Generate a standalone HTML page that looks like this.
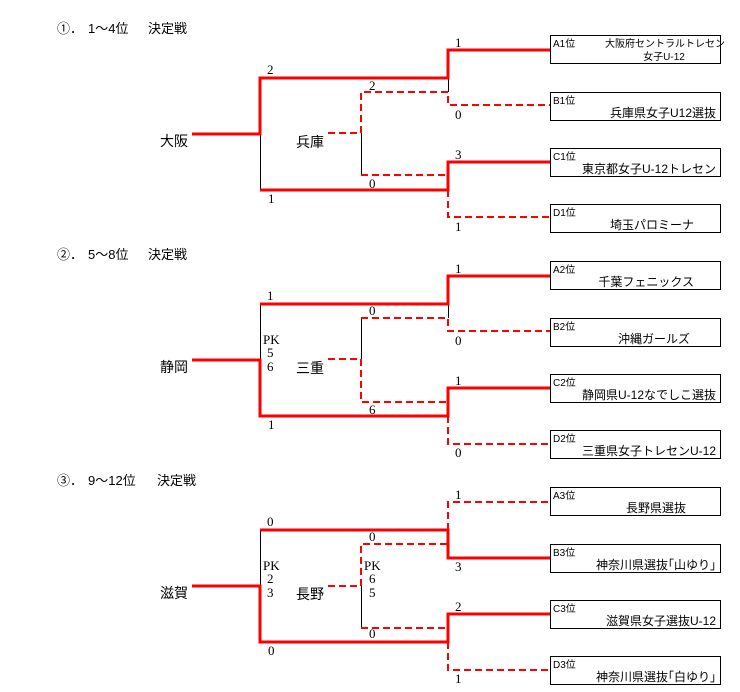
<!DOCTYPE html>
<html><head><meta charset="utf-8"><style>
html,body{margin:0;padding:0;background:#fff;}
svg{display:block;}
text{font-family:"Liberation Sans","Noto Sans CJK JP",sans-serif;fill:#000;}
.n{font-family:"Liberation Serif","Noto Sans CJK JP",serif;font-size:13px;}
.t{font-size:13px;}
.s{font-size:10px;}
.m{font-size:12px;}
.r{fill:none;stroke:#f00;stroke-width:3;}
.d{fill:none;stroke:#f00;stroke-width:2;stroke-dasharray:7,4;}
.k{fill:none;stroke:#000;stroke-width:1;}
.b{fill:#fff;stroke:#000;stroke-width:1;}
</style></head><body>
<svg width="740" height="692" viewBox="0 0 740 692" xmlns="http://www.w3.org/2000/svg">
<defs>
<g id="boxes">
<rect class="b" x="550.5" y="35.5" width="170" height="28"/>
<rect class="b" x="550.5" y="92.5" width="170" height="28"/>
<rect class="b" x="550.5" y="148.5" width="170" height="28"/>
<rect class="b" x="550.5" y="204.5" width="170" height="28"/>
</g>
</defs>

<!-- Section 1 -->
<g>
<text class="t" x="57" y="33">①．</text><text class="t" x="88" y="33">1～4位</text><text class="t" x="148" y="33">決定戦</text>
<use href="#boxes"/>
<path class="k" d="M260.5 134 V190 M448.5 78 V92 M361.5 133 V175"/>
<path class="d" d="M328 133 H361 V92 H448 V105 H550 M361 175 H448 M448 190 V217 H550"/>
<path class="r" d="M192 134 H260 V78 H448 V50 H550 M260 190 H448 V162 H550"/>
<text class="t" x="160" y="146" style="font-size:14px">大阪</text>
<text class="t" x="296" y="147" style="font-size:14px">兵庫</text>
<text class="n" x="267" y="74">2</text>
<text class="n" x="268" y="203">1</text>
<text class="n" x="369" y="90">2</text>
<text class="n" x="369" y="188">0</text>
<text class="n" x="455" y="47">1</text>
<text class="n" x="455" y="119">0</text>
<text class="n" x="455" y="159">3</text>
<text class="n" x="455" y="231">1</text>
<text class="s" x="553" y="47">A1位</text>
<text class="s" x="665" y="47" text-anchor="middle">大阪府セントラルトレセン</text>
<text class="s" x="664" y="60" text-anchor="middle">女子U-12</text>
<text class="s" x="553" y="104">B1位</text>
<text class="m" x="716" y="117" text-anchor="end">兵庫県女子U12選抜</text>
<text class="s" x="553" y="160">C1位</text>
<text class="m" x="716" y="173" text-anchor="end">東京都女子U-12トレセン</text>
<text class="s" x="553" y="216">D1位</text>
<text class="m" x="694" y="229" text-anchor="end">埼玉パロミーナ</text>
</g>

<!-- Section 2 -->
<g transform="translate(0,226)">
<text class="t" x="57" y="33">②．</text><text class="t" x="88" y="33">5～8位</text><text class="t" x="148" y="33">決定戦</text>
<use href="#boxes"/>
<path class="k" d="M260.5 78 V134 M448.5 78 V92 M361.5 92 V133"/>
<path class="d" d="M328 133 H361 V176 H448 M361 92 H448 V105 H550 M448 190 V218 H550"/>
<path class="r" d="M192 134 H260 V190 H448 V162 H550 M260 78 H448 V50 H550"/>
<text class="t" x="160" y="146" style="font-size:14px">静岡</text>
<text class="t" x="296" y="147" style="font-size:14px">三重</text>
<text class="n" x="267" y="74">1</text>
<text class="n" x="263" y="118">PK</text>
<text class="n" x="267" y="131">5</text>
<text class="n" x="267" y="145">6</text>
<text class="n" x="268" y="203">1</text>
<text class="n" x="369" y="89">0</text>
<text class="n" x="369" y="188">6</text>
<text class="n" x="455" y="47">1</text>
<text class="n" x="455" y="119">0</text>
<text class="n" x="455" y="159">1</text>
<text class="n" x="455" y="231">0</text>
<text class="s" x="553" y="47">A2位</text>
<text class="m" x="694" y="60" text-anchor="end">千葉フェニックス</text>
<text class="s" x="553" y="104">B2位</text>
<text class="m" x="690" y="117" text-anchor="end">沖縄ガールズ</text>
<text class="s" x="553" y="160">C2位</text>
<text class="m" x="716" y="173" text-anchor="end">静岡県U-12なでしこ選抜</text>
<text class="s" x="553" y="216">D2位</text>
<text class="m" x="716" y="229" text-anchor="end">三重県女子トレセンU-12</text>
</g>

<!-- Section 3 -->
<g transform="translate(0,452)">
<text class="t" x="57" y="33">③．</text><text class="t" x="88" y="33">9～12位</text><text class="t" x="157" y="33">決定戦</text>
<use href="#boxes"/>
<path class="k" d="M260.5 78 V134 M361.5 134 V176"/>
<path class="d" d="M328 134 H361 V92 H448 M361 176 H448 M448 78 V50 H550 M448 190 V218 H550"/>
<path class="r" d="M192 134 H260 V190 H448 V162 H550 M260 78 H448 V106 H550"/>
<text class="t" x="160" y="146" style="font-size:14px">滋賀</text>
<text class="t" x="296" y="147" style="font-size:14px">長野</text>
<text class="n" x="267" y="74">0</text>
<text class="n" x="263" y="118">PK</text>
<text class="n" x="267" y="131">2</text>
<text class="n" x="267" y="145">3</text>
<text class="n" x="268" y="203">0</text>
<text class="n" x="364" y="118">PK</text>
<text class="n" x="369" y="131">6</text>
<text class="n" x="369" y="145">5</text>
<text class="n" x="369" y="89">0</text>
<text class="n" x="369" y="186">0</text>
<text class="n" x="455" y="47">1</text>
<text class="n" x="455" y="119">3</text>
<text class="n" x="455" y="159">2</text>
<text class="n" x="455" y="231">1</text>
<text class="s" x="553" y="47">A3位</text>
<text class="m" x="686" y="60" text-anchor="end">長野県選抜</text>
<text class="s" x="553" y="104">B3位</text>
<text class="m" x="716" y="117" text-anchor="end">神奈川県選抜｢山ゆり｣</text>
<text class="s" x="553" y="160">C3位</text>
<text class="m" x="716" y="173" text-anchor="end">滋賀県女子選抜U-12</text>
<text class="s" x="553" y="216">D3位</text>
<text class="m" x="716" y="229" text-anchor="end">神奈川県選抜｢白ゆり｣</text>
</g>
</svg>
</body></html>
